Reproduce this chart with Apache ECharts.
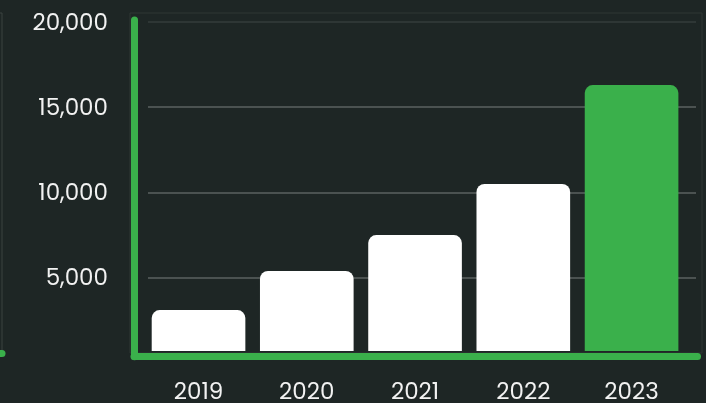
<!DOCTYPE html>
<html>
<head>
<meta charset="utf-8">
<script src="https://cdn.jsdelivr.net/npm/echarts@6/dist/echarts.min.js"></script>
<style>
html,body{margin:0;padding:0;background:#1e2625;}
#c{width:706px;height:403px;}
</style>
</head>
<body>
<div id="c"></div>
<script>
const years = ['2019', '2020', '2021', '2022', '2023'];
const values = [3100, 5400, 7500, 10500, 16300];
const highlightYear = '2023';
const yTicks = { min: 0, max: 20000, interval: 5000 };

const WHITE = '#ffffff';
const GREEN = '#3ab04b';
const FONT = 'Poppins, Inter, "Noto Sans", sans-serif';

const chart = echarts.init(document.getElementById('c'), null, { renderer: 'canvas' });

const option = {
  backgroundColor: '#1e2625',
  animation: false,
  grid: [
    // faint card frame
    { left: 130, right: 4, top: 13, bottom: 50, show: true, borderColor: '#2e3635', borderWidth: 1, backgroundColor: 'transparent', outerBoundsMode: 'none' },
    // left neighbouring card frame
    { left: -300, right: 704, top: 13, bottom: 50, show: true, borderColor: '#3a4241', borderWidth: 1, backgroundColor: 'transparent', outerBoundsMode: 'none' },
    // green L frame
    { left: 134, right: 8.5, top: 20, bottom: 46.3, outerBoundsMode: 'none' },
    // gridlines + labels
    { left: 148, right: 10, top: 22, bottom: 40.3, outerBoundsMode: 'none' },
    // bars
    { left: 144.4, right: 20.3, top: 22, bottom: 52, outerBoundsMode: 'none' }
  ],
  xAxis: [
    { gridIndex: 0, type: 'value', show: false, min: 0, max: 1 },
    { gridIndex: 1, type: 'value', min: 0, max: 1, offset: 4,
      axisLine: { show: true, lineStyle: { color: GREEN, width: 7, cap: 'round' } },
      axisTick: { show: false }, axisLabel: { show: false }, splitLine: { show: false } },
    { gridIndex: 2, type: 'value', min: 0, max: 1,
      axisLine: { show: true, lineStyle: { color: GREEN, width: 7, cap: 'round' } },
      axisTick: { show: false }, axisLabel: { show: false }, splitLine: { show: false } },
    { gridIndex: 3, type: 'value', show: false, min: 0, max: 1 },
    { gridIndex: 4, type: 'category', data: years,
      axisLine: { show: false }, axisTick: { show: false }, splitLine: { show: false },
      axisLabel: { color: '#f2f2f2', fontSize: 23, fontFamily: FONT, margin: 31 } }
  ],
  yAxis: [
    { gridIndex: 0, type: 'value', show: false, min: 0, max: 1 },
    { gridIndex: 1, type: 'value', show: false, min: 0, max: 1 },
    { gridIndex: 2, type: 'value', min: 0, max: 1,
      axisLine: { show: true, lineStyle: { color: GREEN, width: 7, cap: 'round' } },
      axisTick: { show: false }, axisLabel: { show: false }, splitLine: { show: false } },
    { gridIndex: 3, type: 'value', min: yTicks.min, max: yTicks.max, interval: yTicks.interval,
      axisLine: { show: false }, axisTick: { show: false },
      axisLabel: { color: '#f2f2f2', fontSize: 23, fontFamily: FONT, margin: 40,
        verticalAlign: 'top', lineHeight: 4,
        formatter: v => v === 0 ? '' : v.toLocaleString('en-US') },
      splitLine: { show: true, lineStyle: { width: 2,
        color: ['transparent', '#4b5251', '#4b5251', '#4b5251', '#2e3635'] } } },
    { gridIndex: 4, type: 'value', show: false, min: 700, max: yTicks.max }
  ],
  series: [
    {
      type: 'bar',
      xAxisIndex: 4, yAxisIndex: 4,
      barCategoryGap: '13.5%',
      clip: true,
      data: years.map((y, i) => ({
        value: values[i],
        itemStyle: { color: y === highlightYear ? GREEN : WHITE }
      })),
      itemStyle: { borderRadius: [8, 8, 0, 0] }
    }
  ]
};
chart.setOption(option);
</script>
</body>
</html>
